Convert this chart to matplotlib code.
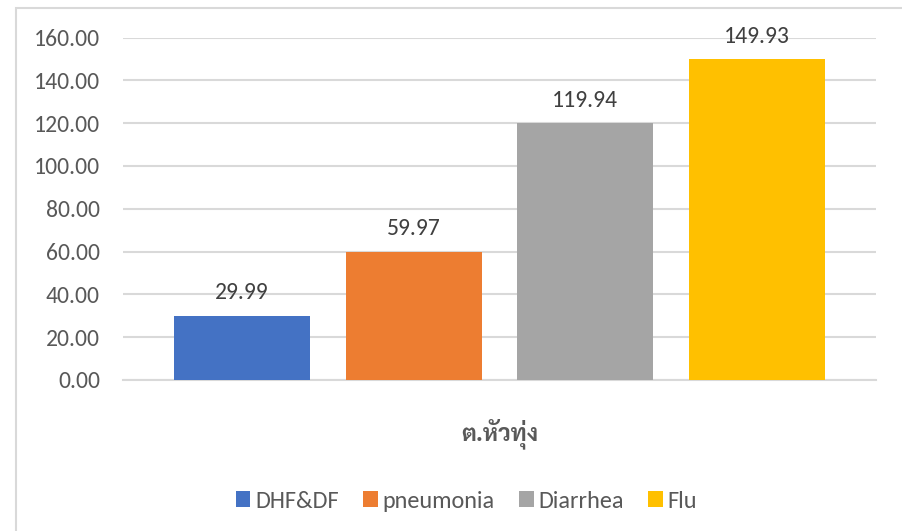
import matplotlib
matplotlib.use("Agg")
import matplotlib.pyplot as plt
from matplotlib.patches import Rectangle, Patch

# Data
series = ["DHF&DF", "pneumonia", "Diarrhea", "Flu"]
values = [29.99, 59.97, 119.94, 149.93]
category = "ต.หัวทุ่ง"
yticks = [0, 20, 40, 60, 80, 100, 120, 140, 160]
colors = ["#4472C4", "#ED7D31", "#A5A5A5", "#FFC000"]

W, H = 903, 531
DPI = 100
fig = plt.figure(figsize=(W / DPI, H / DPI), dpi=DPI)
fig.patch.set_facecolor("white")

base_font = ["Carlito", "Open Sans", "DejaVu Sans"]
thai_font = ["Sarabun", "IBM Plex Sans Thai", "Noto Sans Thai", "DejaVu Sans"]

# chart area border (left and top visible)
fig.add_artist(Rectangle((16 / W, -0.1), 1.2, (1 - 8 / H) + 0.1,
                         transform=fig.transFigure, fill=False,
                         edgecolor="#D9D9D9", linewidth=1.5))

ax = fig.add_axes([123 / W, 1 - 380 / H, (876 - 123) / W, (380 - 37.5) / H])
ax.set_facecolor("none")

x = list(range(len(series)))
bars = ax.bar(x, values, width=0.793, color=colors, zorder=3)
ax.set_xlim(-0.694, 3.694)
ax.set_ylim(0, 160)
ax.set_yticks(yticks)
ax.set_yticklabels([f"{v:.2f}" for v in yticks], fontsize=17,
                   color="#595959", family=base_font)
ax.tick_params(axis="y", length=0, pad=16.5)
ax.set_xticks([])
ax.grid(axis="y", color="#D9D9D9", linewidth=1.5, zorder=0)
for s in ["top", "right", "left"]:
    ax.spines[s].set_visible(False)
ax.spines["bottom"].set_color("#D9D9D9")
ax.spines["bottom"].set_linewidth(1.5)

for xi, v in zip(x, values):
    ax.annotate(f"{v:.2f}", (xi, v), xytext=(0, 16.5), textcoords="offset points",
                ha="center", va="center", fontsize=17, color="#404040",
                family=base_font)

fig.text(499.5 / W, 1 - 434 / H, category, ha="center", va="center",
         fontsize=17, fontweight="bold", color="#595959", family=thai_font)

handles = [Patch(facecolor=c, edgecolor="none") for c in colors]
fig.legend(handles, series, loc="center", bbox_to_anchor=(466.5 / W, 1 - 501 / H),
           ncol=4, frameon=False, handlelength=0.6,
           handleheight=0.6, handletextpad=0.2, columnspacing=1.0,
           prop={"family": base_font, "size": 17.5}, labelcolor="#595959")

fig.savefig("out.png", dpi=DPI, facecolor="white")
